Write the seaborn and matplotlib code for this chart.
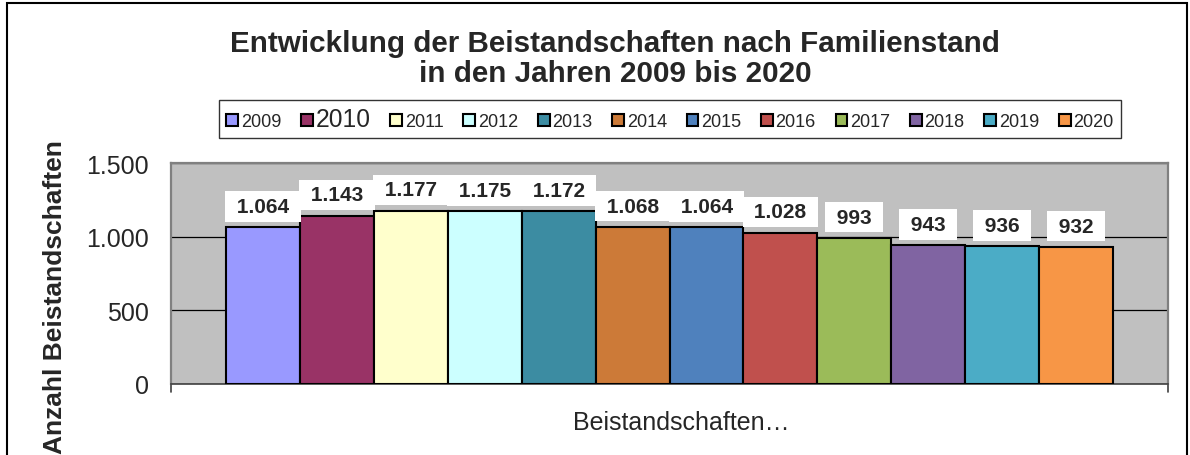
import matplotlib
matplotlib.use("Agg")
import matplotlib.pyplot as plt
import matplotlib.transforms as mtransforms
from matplotlib.patches import Rectangle
import seaborn as sns
import pandas as pd

# ---- data ----
category = "Beistandschaften…"
years = ["2009", "2010", "2011", "2012", "2013", "2014",
         "2015", "2016", "2017", "2018", "2019", "2020"]
values = [1064, 1143, 1177, 1175, 1172, 1068, 1064, 1028, 993, 943, 936, 932]
colors = ["#9999FF", "#993366", "#FFFFCC", "#CCFFFF", "#3C8CA2", "#CC7A38",
          "#4F81BD", "#C0504D", "#9BBB59", "#8064A2", "#4BACC6", "#F79646"]
yticks = [0, 500, 1000, 1500]
ytick_labels = ["0", "500", "1.000", "1.500"]

df = pd.DataFrame({"cat": [category] * len(years), "year": years, "value": values})

sns.set_style("white")
plt.rcParams["font.family"] = ["Liberation Sans", "DejaVu Sans"]

fig = plt.figure(figsize=(11.9, 4.56), dpi=100)
ax = fig.add_axes([171 / 1190, 71 / 456, 997 / 1190, 221 / 456])
ax.set_facecolor("#C0C0C0")

sns.barplot(data=df, x="cat", y="value", hue="year", palette=colors,
            hue_order=years, width=0.89, gap=0, saturation=1,
            edgecolor="black", linewidth=1.5, ax=ax, zorder=3)

ax.set_ylim(0, 1500)
ax.set_xlim(-0.5, 0.5)
ax.set_yticks(yticks)
ax.set_yticklabels(ytick_labels, fontsize=18)
ax.tick_params(axis="y", direction="out", length=8, width=1, color="black", pad=8)
ax.yaxis.grid(True, color="black", linewidth=0.9)
ax.set_axisbelow(True)

# x axis: category label, boundary ticks
ax.set_xticks([0])
ax.set_xticklabels([category], fontsize=18)
ax.tick_params(axis="x", length=0, pad=19)
offset = mtransforms.ScaledTranslation(12 / 100, 0, fig.dpi_scale_trans)
for lab in ax.get_xticklabels():
    lab.set_transform(lab.get_transform() + offset)
ax.set_xlabel("")
for xb in (-0.5, 0.5):
    ax.plot([xb, xb], [0, -0.036], transform=ax.get_xaxis_transform(),
            color="#404040", lw=1.2, clip_on=False)

ax.set_ylabel("Anzahl Beistandschaften", fontsize=19, fontweight="bold")
ax.yaxis.set_label_coords(-0.104, 0.40)

for side in ("top", "right", "left"):
    ax.spines[side].set_color("#808080")
    ax.spines[side].set_linewidth(1.6)
ax.spines["bottom"].set_color("#404040")
ax.spines["bottom"].set_linewidth(1.2)

# data labels
for cont, v in zip(ax.containers, values):
    lbl = " " + f"{v:,}".replace(",", ".") + " "
    ax.bar_label(cont, labels=[lbl], padding=8, fontsize=15, fontweight="bold",
                 bbox=dict(boxstyle="square,pad=0.28", facecolor="white",
                           edgecolor="none"), zorder=5)

# legend
handles, labels = ax.get_legend_handles_labels()
if ax.get_legend() is not None:
    ax.get_legend().remove()
leg = fig.legend(handles, labels, loc="center", bbox_to_anchor=(670 / 1190, 1 - 120 / 456),
                 ncol=12, fontsize=13, frameon=True, fancybox=False,
                 edgecolor="black", handlelength=0.65, handleheight=0.65,
                 handletextpad=0.15, columnspacing=1.1, borderpad=0.4,
                 borderaxespad=0)
leg.get_frame().set_linewidth(1.0)
for t in leg.get_texts():
    if t.get_text() == "2010":
        t.set_fontsize(17.7)

# title
fig.text(615 / 1190, 1 - 59 / 456,
         "Entwicklung der Beistandschaften nach Familienstand\nin den Jahren 2009 bis 2020",
         ha="center", va="center", fontsize=21.3, fontweight="bold", linespacing=1.1)

# outer chart frame
fig.patches.append(Rectangle((7 / 1190, -0.05), 1180 / 1190, 1.05 - 4 / 456,
                             transform=fig.transFigure, fill=False,
                             edgecolor="black", linewidth=1.5))

fig.savefig("out.png", dpi=100)
